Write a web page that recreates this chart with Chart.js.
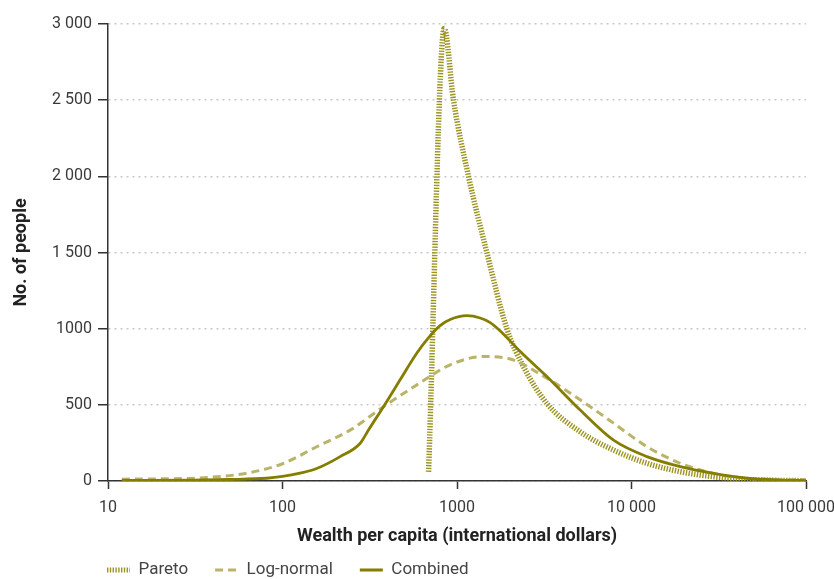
<!DOCTYPE html>
<html>
<head>
<meta charset="utf-8">
<script src="https://cdn.jsdelivr.net/npm/chart.js@4.4.1/dist/chart.umd.min.js"></script>
<style>
  html, body { margin: 0; padding: 0; background: #ffffff; }
  #wrap { width: 834px; height: 579px; position: relative; }
</style>
</head>
<body>
<div id="wrap"><canvas id="c" width="834" height="579"></canvas></div>
<script>
// ---- data ----
const seriesNames = ['Pareto', 'Log-normal', 'Combined'];

const paretoX = [687, 845, 955, 1164, 1483, 1930, 2405, 3273, 5080, 7890, 12270, 19050, 29550, 45900, 70000, 100000];
const paretoY = [60, 2970, 2500, 2000, 1500, 1000, 750, 509, 323, 203, 116, 61, 28, 10, 4, 2];

const lognormX = [12, 20, 38, 65, 101, 157, 244, 379, 589, 914, 1419, 1940, 3273, 5080, 7890, 12270, 19050, 29550, 45900, 70000, 100000];
const lognormY = [12, 14, 24, 55, 115, 225, 334, 488, 631, 763, 817, 806, 675, 533, 380, 225, 116, 50, 18, 10, 8];

const combinedX = [12, 30, 50, 81, 100, 126, 157, 214, 279, 311, 379, 472, 589, 680, 800, 914, 1140, 1358, 1550, 1770, 2303, 3273, 5080, 7890, 12270, 19050, 29550, 45900, 70000, 100000];
const combinedY = [4, 6, 10, 18, 30, 52, 82, 160, 248, 335, 488, 664, 840, 935, 1020, 1060, 1085, 1070, 1040, 985, 850, 686, 466, 268, 160, 94, 50, 18, 6, 3];

const xTickValues = [10, 100, 1000, 10000, 100000];
const xTickLabels = ['10', '100', '1000', '10 000', '100 000'];
const yTickValues = [0, 500, 1000, 1500, 2000, 2500, 3000];
const yTickLabels = ['0', '500', '1000', '1 500', '2 000', '2 500', '3 000'];

const xTitle = 'Wealth per capita (international dollars)';
const yTitle = 'No. of people';

// ---- build ----
const pts = (xs, ys) => xs.map((x, i) => ({ x: x, y: ys[i] }));
const FONT = "'Liberation Sans Narrow', 'Roboto', sans-serif";

const legendShift = {
  id: 'legendShift',
  afterLayout(chart) {
    const lg = chart.legend;
    if (lg) {
      const w = lg.right - lg.left;
      lg.left = 80;
      lg.right = 80 + w;
      lg.top = 534.5;
      lg.bottom = 579;
      lg.height = lg.bottom - lg.top;
    }
  }
};

new Chart(document.getElementById('c'), {
  type: 'scatter',
  data: {
    datasets: [
      {
        label: seriesNames[0],
        data: pts(paretoX, paretoY),
        showLine: true,
        borderColor: '#9c9420',
        borderWidth: 5.5,
        borderDash: [1.4, 1.4],
        pointRadius: 0,
        cubicInterpolationMode: 'monotone',
        order: 3
      },
      {
        label: seriesNames[1],
        data: pts(lognormX, lognormY),
        showLine: true,
        borderColor: '#bab46a',
        borderWidth: 3,
        borderDash: [8, 5],
        pointRadius: 0,
        cubicInterpolationMode: 'monotone',
        order: 2
      },
      {
        label: seriesNames[2],
        data: pts(combinedX, combinedY),
        showLine: true,
        borderColor: '#857d00',
        borderWidth: 2.8,
        pointRadius: 0,
        cubicInterpolationMode: 'monotone',
        order: 1
      }
    ]
  },
  options: {
    responsive: false,
    animation: false,
    devicePixelRatio: 1,
    layout: { padding: { left: 0, right: 28, top: 24, bottom: 0 } },
    plugins: {
      tooltip: { enabled: false },
      legend: {
        position: 'bottom',
        align: 'start',
        maxHeight: 28,
        labels: {
          usePointStyle: true,
          pointStyle: 'line',
          pointStyleWidth: 23,
          padding: 27,
          color: '#444444',
          font: { family: FONT, size: 17 },
          sort: (a, b) => a.datasetIndex - b.datasetIndex,
          generateLabels: (chart) => {
            const items = Chart.defaults.plugins.legend.labels.generateLabels(chart);
            items.forEach(it => {
              const ds = chart.data.datasets[it.datasetIndex];
              it.lineDash = ds.borderDash || [];
              it.lineWidth = it.datasetIndex === 0 ? 5 : ds.borderWidth;
              it.strokeStyle = ds.borderColor;
              it.fontColor = '#444444';
            });
            return items;
          }
        }
      }
    },
    scales: {
      x: {
        type: 'logarithmic',
        min: 10,
        max: 100000,
        afterBuildTicks: (scale) => { scale.ticks = xTickValues.map(v => ({ value: v })); },
        afterFit: (scale) => { scale.height = 70; scale.paddingRight = 0; scale.paddingLeft = 0; },
        ticks: {
          autoSkip: false,
          maxRotation: 0,
          padding: 9,
          color: '#3a3a3a',
          font: { family: FONT, size: 16 },
          callback: (v) => { const i = xTickValues.indexOf(v); return i >= 0 ? xTickLabels[i] : ''; }
        },
        grid: {
          drawOnChartArea: false,
          drawTicks: true,
          tickLength: 8,
          tickColor: '#333333',
          tickWidth: 1.5
        },
        border: { color: '#333333', width: 1.5 },
        title: {
          display: true,
          text: xTitle,
          color: '#222222',
          font: { family: FONT, size: 18, weight: 'bold' },
          padding: { top: 0, bottom: 4 }
        }
      },
      y: {
        type: 'linear',
        min: 0,
        max: 3000,
        afterBuildTicks: (scale) => { scale.ticks = yTickValues.map(v => ({ value: v })); },
        afterFit: (scale) => { scale.width = 108; scale.paddingTop = 0; scale.paddingBottom = 0; },
        ticks: {
          padding: 6,
          color: '#3a3a3a',
          font: { family: FONT, size: 16 },
          callback: (v) => { const i = yTickValues.indexOf(v); return i >= 0 ? yTickLabels[i] : ''; }
        },
        grid: {
          color: '#c8c8c8',
          lineWidth: 1.5,
          drawTicks: true,
          tickLength: 10,
          tickColor: '#333333',
          tickWidth: 1.5,
          tickBorderDash: []
        },
        border: { color: '#333333', width: 1.5, dash: [2, 4] },
        title: {
          display: true,
          text: yTitle,
          color: '#222222',
          font: { family: FONT, size: 18, weight: 'bold' },
          padding: { top: 11, bottom: 0 }
        }
      }
    }
  },
  plugins: [legendShift]
});
</script>
</body>
</html>
